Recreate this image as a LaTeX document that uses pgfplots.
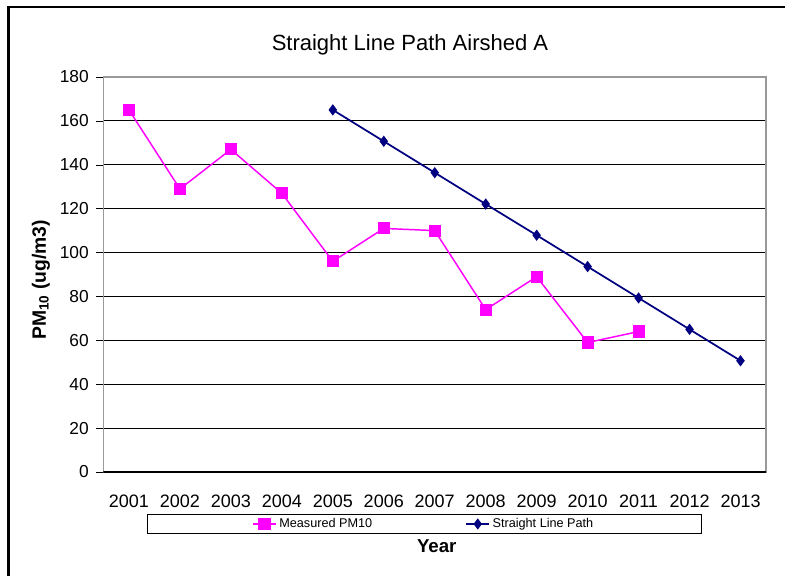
\documentclass[border=0pt]{standalone}
\usepackage{fontspec}
\setmainfont{Liberation Sans}
\usepackage{pgfplots}
\pgfplotsset{compat=1.18}
\definecolor{mag}{RGB}{255,0,255}
\definecolor{nav}{RGB}{0,0,128}
\begin{document}
\begin{tikzpicture}
\useasboundingbox (0,0) rectangle (588.75pt,432pt);
\draw[line width=2.2pt] (6.4pt,0) -- (6.4pt,426.75pt) -- (588.75pt,426.75pt);
\begin{axis}[
  at={(77.6pt,78pt)}, anchor=south west,
  scale only axis, width=496.9pt, height=296.25pt,
  xmin=-0.5, xmax=12.5, ymin=0, ymax=180,
  xtick={0,...,12},
  xticklabels={2001,2002,2003,2004,2005,2006,2007,2008,2009,2010,2011,2012,2013},
  minor xtick={-0.5,0.5,...,12.5},
  ytick={0,20,...,180},
  tick align=outside,
  xtick style={draw=none},
  minor tick length=5.5pt, major tick length=5.5pt,
  ytick style={black, thin},
  minor x tick style={black, thin},
  xtick pos=bottom, ytick pos=left,
  ymajorgrids, grid style={black, line width=0.6pt},
  axis line style={draw=gray!80, line width=1pt},
  /pgf/number format/assume math mode=true,
  tick label style={font=\fontsize{13}{15}\selectfont},
  yticklabel style={xshift=-2pt},
  xticklabel style={yshift=-8pt, font=\fontsize{13.5}{15}\selectfont},
  title={Straight Line Path Airshed A},
  title style={at={(axis description cs:0.4626,1)}, anchor=center, yshift=18.5pt, font=\fontsize{16.5}{19}\selectfont},
  xlabel={\textbf{Year}},
  xlabel style={at={(axis description cs:0.503,0)}, anchor=center, yshift=-55.5pt, font=\fontsize{14}{16}\selectfont},
  ylabel={\textbf{PM\textsubscript{10} (ug/m3)}},
  ylabel style={at={([xshift=-47pt,yshift=-4pt]axis description cs:0,0.5)}, anchor=center, font=\fontsize{14.5}{16}\selectfont},
  legend columns=2,
  legend style={at={(axis description cs:0.484,0)}, anchor=north, yshift=-31.5pt,
    draw=black, line width=0.6pt, inner xsep=79pt, inner ysep=1pt,
    font=\fontsize{9.5}{10.5}\selectfont,
    /tikz/every even column/.append style={column sep=68pt}},
  legend image post style={line width=1.2pt},
]
\addplot[mag, line width=1.1pt, mark=square*, mark size=4pt, mark options={solid, fill=mag, draw=mag}]
coordinates {(0,165) (1,129) (2,147) (3,127) (4,96) (5,111) (6,110) (7,74) (8,89) (9,59) (10,64)};
\addlegendentry{Measured PM10}
\addplot[nav, line width=1.3pt, mark=diamond*, mark size=3.2pt, mark options={solid, fill=nav, draw=nav}]
coordinates {(4,165) (5,150.7) (6,136.4) (7,122.1) (8,107.9) (9,93.6) (10,79.3) (11,65) (12,50.7)};
\addlegendentry{Straight Line Path}
\draw[black, line width=1pt] (axis cs:-0.5,0) -- (axis cs:12.5,0);
\draw[gray!80, line width=1pt] (axis cs:-0.5,180) -- (axis cs:12.5,180);
\end{axis}
\end{tikzpicture}
\end{document}
